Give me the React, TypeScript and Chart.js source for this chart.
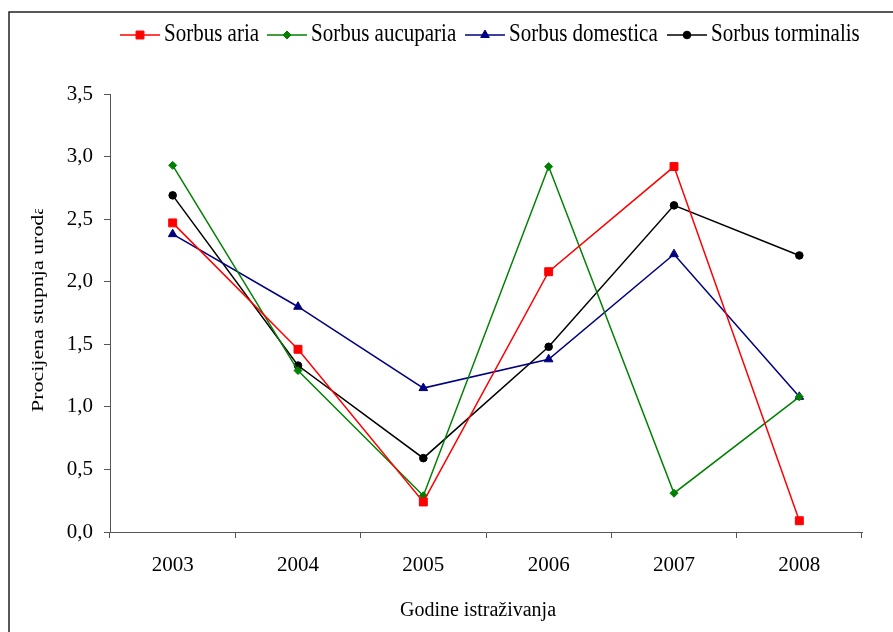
import { useEffect, useRef } from 'react';
import { Chart, registerables } from 'chart.js';
import { drawPoint } from 'chart.js/helpers';

Chart.register(...registerables);

const years = ['2003', '2004', '2005', '2006', '2007', '2008'];
const sorbusAria = [2.47, 1.46, 0.24, 2.08, 2.92, 0.09];
const sorbusAucuparia = [2.93, 1.29, 0.29, 2.92, 0.31, 1.08];
const sorbusDomestica = [2.38, 1.8, 1.15, 1.38, 2.22, 1.08];
const sorbusTorminalis = [2.69, 1.33, 0.59, 1.48, 2.61, 2.21];
const seriesNames = ['Sorbus aria', 'Sorbus aucuparia', 'Sorbus domestica', 'Sorbus torminalis'];
const yMin = 0;
const yMax = 3.5;
const yStep = 0.5;
const xTitle = 'Godine istraživanja';
const yTitle = 'Procijena stupnja uroda';

const FONT = '"Liberation Serif", "Times New Roman", serif';
const AXIS = '#555555';

function stretchedText(
  ctx: CanvasRenderingContext2D,
  text: string,
  x: number,
  y: number,
  size: number,
  sx: number,
  sy: number,
  rot = 0,
  align: CanvasTextAlign = 'left'
) {
  ctx.save();
  ctx.translate(x, y);
  if (rot) ctx.rotate(rot);
  ctx.scale(sx, sy);
  ctx.font = `${size}px ${FONT}`;
  ctx.fillStyle = '#000';
  ctx.textAlign = align;
  ctx.textBaseline = 'alphabetic';
  ctx.fillText(text, 0, 0);
  ctx.restore();
}

const legendStarts = [120, 267, 465, 667];

const decorations = {
  id: 'decorations',
  afterDraw(chart: any) {
    const ctx: CanvasRenderingContext2D = chart.ctx;
    // frame
    ctx.save();
    ctx.strokeStyle = '#222';
    ctx.lineWidth = 1.5;
    ctx.beginPath();
    ctx.moveTo(9, 700);
    ctx.lineTo(9, 12);
    ctx.lineTo(1000, 12);
    ctx.stroke();
    ctx.restore();

    // legend
    chart.data.datasets.forEach((ds: any, i: number) => {
      const x0 = legendStarts[i];
      const y = 35;
      ctx.save();
      ctx.strokeStyle = ds.borderColor;
      ctx.lineWidth = 1.5;
      ctx.beginPath();
      ctx.moveTo(x0, y);
      ctx.lineTo(x0 + 40, y);
      ctx.stroke();
      ctx.fillStyle = ds.backgroundColor;
      ctx.strokeStyle = ds.borderColor;
      ctx.lineWidth = 1;
      drawPoint(ctx, { pointStyle: ds.pointStyle, radius: ds.pointRadius, rotation: 0, borderWidth: 1 } as any, x0 + 20, y);
      ctx.restore();
      stretchedText(ctx, ds.label, x0 + 44, 41, 21, 1, 1.15);
    });

    // x title
    stretchedText(ctx, xTitle, 478, 616, 20, 1, 1, 0, 'center');

    // y title (clipped at top)
    ctx.save();
    ctx.beginPath();
    ctx.rect(0, 209, 100, 300);
    ctx.clip();
    stretchedText(ctx, yTitle, 43, 412, 17, 1.29, 1, -Math.PI / 2, 'left');
    ctx.restore();
  },
};

export default function App() {
  const ref = useRef<HTMLCanvasElement>(null);
  useEffect(() => {
    const mk = (label: string, data: number[], color: string, style: string, r: number) => ({
      label,
      data,
      borderColor: color,
      backgroundColor: color,
      pointBackgroundColor: color,
      pointBorderColor: color,
      pointStyle: style,
      pointRadius: r,
      pointHoverRadius: r,
      pointBorderWidth: 1,
      borderWidth: 1.5,
      tension: 0,
      fill: false,
    });
    const chart = new Chart(ref.current!, {
      type: 'line',
      data: {
        labels: years,
        datasets: [
          mk(seriesNames[0], sorbusAria, '#ff0000', 'rect', 5.6),
          mk(seriesNames[1], sorbusAucuparia, '#008000', 'rectRot', 4),
          mk(seriesNames[2], sorbusDomestica, '#000080', 'triangle', 5),
          mk(seriesNames[3], sorbusTorminalis, '#000000', 'circle', 3.8),
        ] as any,
      },
      options: {
        responsive: false,
        devicePixelRatio: 1,
        animation: false,
        layout: { padding: { left: 0, right: 31, top: 94, bottom: 0 } },
        plugins: { legend: { display: false }, tooltip: { enabled: false }, title: { display: false } },
        scales: {
          x: {
            type: 'category',
            offset: true,
            grid: { display: true, drawOnChartArea: false, drawTicks: true, tickLength: 6, color: AXIS, offset: true },
            border: { display: true, color: AXIS, width: 1 },
            ticks: { color: '#000', font: { family: FONT, size: 21 }, padding: 15, maxRotation: 0, autoSkip: false },
            afterFit: (s: any) => {
              s.height = 100;
            },
          },
          y: {
            min: yMin,
            max: yMax,
            grid: { display: true, drawOnChartArea: false, drawTicks: true, tickLength: 6, color: AXIS },
            border: { display: true, color: AXIS, width: 1 },
            ticks: {
              stepSize: yStep,
              color: '#000',
              font: { family: FONT, size: 21 },
              padding: 11,
              callback: (v: any) => Number(v).toFixed(1).replace('.', ','),
            },
            afterFit: (s: any) => {
              s.width = 110;
            },
          },
        },
      } as any,
      plugins: [decorations],
    });
    return () => chart.destroy();
  }, []);
  return (
    <div style={{ position: 'fixed', left: 0, top: 0, width: 893, height: 632, background: '#fff' }}>
      <canvas ref={ref} width={893} height={632} style={{ display: 'block', width: 893, height: 632 }} />
    </div>
  );
}
